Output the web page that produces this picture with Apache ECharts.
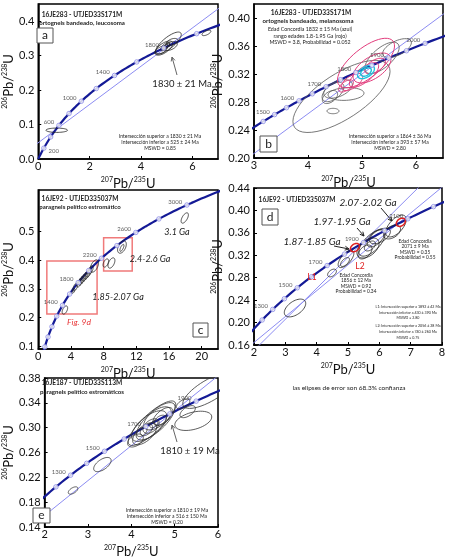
<!DOCTYPE html>
<html>
<head>
<meta charset="utf-8">
<script src="https://cdn.jsdelivr.net/npm/echarts@6/dist/echarts.min.js"></script>
<style>
  html, body { margin: 0; padding: 0; background: #fff; }
  #chart { width: 450px; height: 559px; }
</style>
</head>
<body>
<div id="chart"></div>
<script>
// decay constants, per Ma
const L238 = 1.55125e-4
const L235 = 9.8485e-4

// ellipses: [x, y, major half-axis dx, major half-axis dy, minor/major ratio]

// panel a
const aTicks = [200, 400, 600, 800, 1000, 1200, 1400, 1600, 1800, 2000, 2200]
const aLabels = [200, 600, 1000, 1400, 1800]
const aIntercepts = [525, 1830]
const aEllipses = [
  [0.72, 0.0835, 0.42, 0.0, 0.2],
  [6.55, 0.366, 0.17, 0.006, 0.4],
  [5.07, 0.337, 0.48, 0.029, 0.35],
  [4.89, 0.322, 0.33, 0.0174, 0.45],
  [5.15, 0.328, 0.26, 0.0087, 0.5],
  [4.78, 0.316, 0.22, 0.0087, 0.5],
  [4.96, 0.328, 0.15, 0.0087, 0.5],
  [5.22, 0.34, 0.22, 0.0058, 0.5],
  [4.95, 0.325, 0.10, 0.006, 0.5],
  [5.00, 0.328, 0.12, 0.007, 0.5],
  [4.88, 0.321, 0.10, 0.005, 0.6]
]

// panel b
const bTicks = [1400, 1450, 1500, 1550, 1600, 1650, 1700, 1750, 1800, 1850, 1900, 1950, 2000, 2050, 2100]
const bLabels = [1500, 1600, 1700, 1800, 1900, 2000]
const bIntercepts = [393, 1864]
const bGray = [
  [4.62, 0.288, 0.87, 0.044, 0.4],
  [5.648, 0.357, 0.26, 0.010, 0.45],
  [5.37, 0.343, 0.296, 0.020, 0.45],
  [4.463, 0.2943, 0.185, 0.0114, 0.55],
  [4.556, 0.2986, 0.259, 0.0086, 0.5],
  [4.407, 0.2871, 0.13, 0.0071, 0.6],
  [4.704, 0.2914, 0.333, 0.0014, 0.35],
  [4.463, 0.2671, 0.111, 0, 0.45]
]
const bRed = [
  [5.074, 0.3357, 0.5, 0.0314, 0.42],
  [5.185, 0.3286, 0.333, 0.0171, 0.5],
  [5.037, 0.3186, 0.259, 0.0157, 0.4],
  [4.815, 0.3086, 0.185, 0.01, 0.5],
  [4.704, 0.3029, 0.13, 0.0071, 0.5],
  [5.241, 0.3314, 0.185, 0.0086, 0.5]
]
const bCyan = [
  [5.074, 0.3229, 0.148, 0.0071, 0.55],
  [5.074, 0.3229, 0.093, 0.0043, 0.6]
]

// panel c
const cTicks = [600, 800, 1000, 1200, 1400, 1600, 1800, 2000, 2200, 2400, 2600, 2800, 3000, 3200]
const cLabels = [1400, 1800, 2200, 2600, 3000]
const cEllipses = [
  [17.93, 0.5473, 0.35, 0.0175, 0.45],
  [8.27, 0.3902, 0.23, 0.014, 0.5],
  [8.96, 0.3902, 0.29, 0.0175, 0.5],
  [10.24, 0.446, 0.35, 0.021, 0.55],
  [10.24, 0.443, 0.2, 0.012, 0.35],
  [3.26, 0.226, 0.23, 0.014, 0.5],
  [4.31, 0.2925, 0.15, 0.008, 0.4],
  [4.54, 0.3064, 0.23, 0.014, 0.4],
  [5.01, 0.3204, 0.23, 0.014, 0.45],
  [5.24, 0.3274, 0.23, 0.014, 0.45],
  [5.47, 0.3344, 0.23, 0.014, 0.45],
  [5.70, 0.3413, 0.23, 0.014, 0.45],
  [5.94, 0.3483, 0.23, 0.014, 0.45],
  [6.17, 0.3553, 0.23, 0.014, 0.45],
  [6.40, 0.3658, 0.23, 0.014, 0.45],
  [6.87, 0.3797, 0.35, 0.021, 0.5]
]
const cBoxes = [
  [[1.05, 0.212], [7.2, 0.397]],
  [[8.0, 0.362], [11.5, 0.478]]
]

// panel d
const dTicks = [1100, 1200, 1300, 1400, 1500, 1600, 1700, 1800, 1900, 2000, 2100, 2200]
const dLabels = [1300, 1500, 1700, 1900, 2100]
const dL1 = [430, 1892]
const dL2 = [740, 2056]
const dEllipses = [
  [3.309, 0.226, 0.319, 0.0125, 0.55],
  [4.49, 0.2884, 0.128, 0.0054, 0.6],
  [4.936, 0.3134, 0.223, 0.0143, 0.45],
  [4.904, 0.308, 0.128, 0.0071, 0.5],
  [5.766, 0.3419, 0.383, 0.0214, 0.45],
  [5.639, 0.333, 0.319, 0.0143, 0.6],
  [5.894, 0.3508, 0.255, 0.0143, 0.5],
  [5.543, 0.3259, 0.19, 0.0107, 0.6],
  [6.02, 0.3544, 0.319, 0.0107, 0.5],
  [5.70, 0.3366, 0.16, 0.0071, 0.6],
  [6.405, 0.3615, 0.255, 0.0089, 0.6],
  [6.532, 0.3722, 0.287, 0.0178, 0.5]
]
const dRed = [
  [5.221, 0.3337, 0.128, 0.0054, 0.7],
  [6.687, 0.3789, 0.128, 0.0054, 0.7]
]

// panel e
const eTicks = [1100, 1200, 1300, 1400, 1500, 1600, 1700, 1800, 1900, 2000]
const eLabels = [1300, 1500, 1700, 1900]
const eIntercepts = [516, 1810]
const eEllipses = [
  [2.656, 0.1988, 0.106, 0.0046, 0.5],
  [3.333, 0.2406, 0.19, 0.0093, 0.5],
  [4.476, 0.3072, 0.529, 0.0341, 0.3],
  [4.561, 0.3103, 0.423, 0.0279, 0.38],
  [4.413, 0.3026, 0.381, 0.0217, 0.45],
  [4.307, 0.2902, 0.254, 0.0155, 0.5],
  [4.095, 0.2793, 0.169, 0.0077, 0.6],
  [4.603, 0.315, 0.296, 0.0155, 0.5],
  [4.73, 0.3181, 0.212, 0.0124, 0.5],
  [4.455, 0.3026, 0.169, 0.0093, 0.6],
  [4.349, 0.2964, 0.127, 0.0077, 0.6],
  [4.667, 0.3119, 0.127, 0.0062, 0.6],
  [4.519, 0.3057, 0.085, 0.0046, 0.6],
  [4.243, 0.2933, 0.106, 0.0062, 0.6],
  [5.43, 0.311, 0.423, 0.008, 0.45],
  [5.30, 0.3258, 0.169, 0.0077, 0.5],
  [5.196, 0.3382, 0.148, 0.0062, 0.5],
  [5.8, 0.36, 0.6, 0.025, 0.35]
]

const FONT = 'Lato, "Open Sans", sans-serif'
const TXT = '#222'
const CURVE = '#141a96'
const DISC = '#8c8cf2'

function concordia(t) {
  return [Math.exp(L235 * t) - 1, Math.exp(L238 * t) - 1]
}

function curveData(t0, t1) {
  const out = []
  for (let t = t0; t <= t1; t += 10) out.push(concordia(t))
  return out
}

function discordia(ages, x0, x1) {
  const p = concordia(ages[0])
  const q = concordia(ages[1])
  const k = (q[1] - p[1]) / (q[0] - p[0])
  return [[x0, p[1] + k * (x0 - p[0])], [x1, p[1] + k * (x1 - p[0])]]
}

function curveSeries(i, t0, t1, extra) {
  return Object.assign({
    type: 'line', xAxisIndex: i, yAxisIndex: i, data: curveData(t0, t1),
    showSymbol: false, silent: true, clip: true, z: 4,
    lineStyle: { color: CURVE, width: 2.2 }
  }, extra || {})
}

function discSeries(i, ages, x0, x1) {
  return {
    type: 'line', xAxisIndex: i, yAxisIndex: i, data: discordia(ages, x0, x1),
    showSymbol: false, silent: true, clip: true, z: 2,
    lineStyle: { color: DISC, width: 1 }
  }
}

function tickSeries(i, ticks, labels, rightLabels) {
  return {
    type: 'scatter', xAxisIndex: i, yAxisIndex: i, silent: true, z: 6,
    symbol: 'circle', symbolSize: 4.5,
    itemStyle: { color: '#fff', borderColor: '#8a8ae6', borderWidth: 1 },
    data: ticks.map(t => {
      const right = rightLabels && rightLabels.includes(t)
      return {
        value: concordia(t),
        label: {
          show: labels.includes(t), formatter: String(t),
          position: right ? 'right' : 'left', distance: 2,
          offset: right ? [0, 3] : [0, -3],
          fontSize: 6, color: '#333', fontFamily: FONT
        }
      }
    })
  }
}

function ellipseSeries(i, list, color, width) {
  return {
    type: 'custom', xAxisIndex: i, yAxisIndex: i, clip: true, silent: true, z: 5,
    data: list,
    encode: { x: 0, y: 1 },
    renderItem(params, api) {
      const c = api.coord([api.value(0), api.value(1)])
      const e = api.coord([api.value(0) + api.value(2), api.value(1) + api.value(3)])
      const vx = e[0] - c[0], vy = e[1] - c[1], r = api.value(4)
      const pts = []
      for (let k = 0; k < 48; k++) {
        const a = k / 48 * Math.PI * 2
        pts.push([c[0] + Math.cos(a) * vx - Math.sin(a) * vy * r,
                  c[1] + Math.cos(a) * vy + Math.sin(a) * vx * r])
      }
      return {
        type: 'polygon', shape: { points: pts },
        style: { fill: 'none', stroke: color, lineWidth: width }
      }
    }
  }
}

const xName = '{s|207}{m|Pb/}{s|235}{m|U}'
const yName = '{s|206}{m|Pb/}{s|238}{m|U}'
const nameStyle = {
  color: '#111', fontFamily: FONT,
  rich: {
    s: { fontSize: 7, fontFamily: FONT, color: '#111', verticalAlign: 'top', lineHeight: 14 },
    m: { fontSize: 13, fontFamily: FONT, color: '#111', verticalAlign: 'bottom', lineHeight: 14 }
  }
}

function xAxis(i, min, max, interval, digits, showMax) {
  return {
    type: 'value', gridIndex: i, min: min, max: max, interval: interval,
    name: xName, nameLocation: 'middle', nameGap: 17, nameTextStyle: nameStyle,
    splitLine: { show: false },
    axisLine: { lineStyle: { color: '#000', width: 1.5 } },
    axisTick: { inside: true, length: 3, lineStyle: { color: '#000' } },
    axisLabel: { margin: 2, fontSize: 11, color: '#111', fontFamily: FONT, showMaxLabel: !!showMax,
      formatter: v => v.toFixed(digits) }
  }
}

function yAxis(i, min, max, interval, digits, gap, showMax, custom) {
  const ax = {
    type: 'value', gridIndex: i, min: min, max: max, interval: interval,
    name: yName, nameLocation: 'middle', nameGap: gap, nameRotate: 90, nameTextStyle: nameStyle,
    splitLine: { show: false },
    axisLine: { lineStyle: { color: '#000', width: 1.5 } },
    axisTick: { inside: true, length: 3, lineStyle: { color: '#000' } },
    axisLabel: { margin: 4, fontSize: 11, color: '#111', fontFamily: FONT, showMaxLabel: !!showMax,
      formatter: v => v.toFixed(digits) }
  }
  if (custom) {
    ax.axisLabel.customValues = custom
    ax.axisTick.customValues = custom
  }
  return ax
}

// text helpers for the annotations
function txt(x, y, s, size, opts) {
  opts = opts || {}
  return {
    type: 'text', silent: true, z: 20,
    style: {
      text: s, x: x, y: y,
      textAlign: opts.align || 'center', textVerticalAlign: 'middle',
      align: opts.align || 'center', verticalAlign: 'middle',
      fontSize: size, fontFamily: FONT, fontWeight: opts.bold ? 'bold' : 'normal',
      fontStyle: opts.italic ? 'italic' : 'normal',
      fill: opts.color || TXT
    }
  }
}

function lines(x, y0, step, arr, size) {
  return arr.map((s, k) => txt(x, y0 + k * step, s, size))
}

function letterBox(x, y, w, h, s) {
  return [
    { type: 'rect', silent: true, z: 20, shape: { x: x, y: y, width: w, height: h },
      style: { fill: '#fff', stroke: '#555', lineWidth: 1 } },
    txt(x + w / 2, y + h / 2, s, 12)
  ]
}

function arrow(x1, y1, x2, y2, color) {
  const a = Math.atan2(y2 - y1, x2 - x1), L = 4.5, w = 0.45
  return [
    { type: 'line', silent: true, z: 20, shape: { x1: x1, y1: y1, x2: x2, y2: y2 },
      style: { stroke: color, lineWidth: 1 } },
    { type: 'polyline', silent: true, z: 20,
      shape: { points: [[x2 - L * Math.cos(a - w), y2 - L * Math.sin(a - w)], [x2, y2],
                        [x2 - L * Math.cos(a + w), y2 - L * Math.sin(a + w)]] },
      style: { stroke: color, lineWidth: 1, fill: 'none' } }
  ]
}

const myChart = echarts.init(document.getElementById('chart'), null, { renderer: 'canvas' })

const grids = [
  { left: 29, top: 4, width: 189, height: 155 },
  { left: 254, top: 4, width: 189, height: 154 },
  { left: 29, top: 190, width: 189, height: 159 },
  { left: 254, top: 188, width: 188, height: 157 },
  { left: 29, top: 378, width: 189, height: 155 }
].map(g => Object.assign(g, { show: true, borderColor: '#000', borderWidth: 1.5, backgroundColor: 'transparent' }))

const graphics = [].concat(
  // a
  txt(82, 15, '16JE283 - UTJED33S171M', 6.6, { bold: true }),
  txt(82, 23, 'ortogneis bandeado, leucosoma', 6.1, { bold: true }),
  letterBox(37, 28, 16, 15, 'a'),
  txt(182, 84, '1830 ± 21 Ma', 9.5),
  arrow(177, 75, 172, 57, '#666'),
  lines(160, 136, 6, ['Intersección superior a 1830 ± 21 Ma', 'Intersección inferior a 525 ± 24 Ma', 'MSWD = 0.85'], 5),
  // b
  txt(311, 13, '16JE283 - UTJED33S171M', 6.6, { bold: true }),
  txt(308, 21, 'ortogneis bandeado, melanosoma', 6.1, { bold: true }),
  lines(310, 29.5, 6.3, ['Edad Concordia 1832 ± 15 Ma (azul)', 'rango edades 1.8-1.95 Ga (rojo)', 'MSWD = 3.8, Probabilidad = 0.052'], 5.3),
  lines(390, 136, 6, ['Intersección superior a 1864 ± 36 Ma', 'Intersección inferior a 393 ± 57 Ma', 'MSWD = 2.80'], 5),
  letterBox(260, 136, 17, 16, 'b'),
  // c
  txt(80, 199, '16JE92 - UTJED335037M', 6.6, { bold: true }),
  txt(80, 207, 'paragneis pelítico estromático', 6.1, { bold: true }),
  txt(177, 232, '3.1 Ga', 9, { italic: true }),
  txt(150, 259, '2.4-2.6 Ga', 9, { italic: true }),
  txt(118, 297, '1.85-2.07 Ga', 9, { italic: true }),
  txt(79, 322, 'Fig. 9d', 8.5, { italic: true, color: '#e8383a' }),
  letterBox(193, 323, 15, 14, 'c'),
  // d
  txt(297, 200, '16JE92 - UTJED335037M', 6.6, { bold: true }),
  letterBox(262, 209, 16, 16, 'd'),
  txt(368, 203, '2.07-2.02 Ga', 10, { italic: true }),
  txt(342, 222, '1.97-1.95 Ga', 10, { italic: true }),
  txt(312, 242, '1.87-1.85 Ga', 10, { italic: true }),
  arrow(381, 208, 392, 221, '#222'),
  arrow(357, 228, 364, 236, '#222'),
  arrow(334, 246, 349, 249, '#222'),
  txt(312, 277, 'L1', 8.5, { color: '#e02020' }),
  txt(360, 266, 'L2', 8.5, { color: '#e02020' }),
  lines(415, 241, 5.5, ['Edad Concordia', '2071 ± 9 Ma', 'MSWD = 0.35', 'Probabilidad = 0.55'], 4.8),
  lines(356, 275, 5.6, ['Edad Concordia', '1856 ± 12 Ma', 'MSWD = 0.92', 'Probabilidad = 0.34'], 4.8),
  lines(408, 306.7, 5.8, ['L1: Intersección superior a 1892 ± 42 Ma', 'Intersección inferior a 430 ± 390 Ma', 'MSWD = 2.80'], 3.6),
  lines(408, 325.7, 6, ['L2: Intersección superior a 2056 ± 28 Ma', 'Intersección inferior a 740 ± 260 Ma', 'MSWD = 0.75'], 3.6),
  // e
  txt(82, 383, '16JE187 - UTJED33S113M', 6.6, { bold: true }),
  txt(82, 392, 'paragneis pelítico estromáticos', 6.1, { bold: true }),
  txt(190, 451, '1810 ± 19 Ma', 9.5),
  arrow(177, 442, 172, 425, '#666'),
  lines(167, 510, 6.3, ['Intersección superior a 1810 ± 19 Ma', 'Intersección inferior a 516 ± 150 Ma', 'MSWD = 0.20'], 5),
  letterBox(33, 508, 17, 15, 'e'),
  // caption
  txt(349, 388, 'las elipses de error son 68.3% confianza', 6.5)
)

const option = {
  animation: false,
  backgroundColor: '#fff',
  grid: grids,
  xAxis: [
    xAxis(0, 0, 7, 2, 0),
    xAxis(1, 3, 6.5, 1, 0),
    xAxis(2, 0, 22, 4, 0),
    xAxis(3, 2, 8, 1, 0, true),
    xAxis(4, 2, 6, 1, 0, true)
  ],
  yAxis: [
    yAxis(0, 0, 0.45, 0.1, 1, 19),
    yAxis(1, 0.2, 0.42, 0.04, 2, 23),
    yAxis(2, 0.09, 0.645, 0.1, 1, 21, false, [0.1, 0.2, 0.3, 0.4, 0.5, 0.6]),
    yAxis(3, 0.16, 0.44, 0.04, 2, 22, true),
    yAxis(4, 0.14, 0.38, 0.04, 2, 20, true)
  ],
  graphic: { elements: graphics },
  series: [
    // a
    discSeries(0, aIntercepts, -1, 8),
    curveSeries(0, 0, 2400),
    tickSeries(0, aTicks, aLabels, [200]),
    ellipseSeries(0, aEllipses, '#222', 0.8),
    // b
    discSeries(1, bIntercepts, 2, 7),
    curveSeries(1, 1300, 2200),
    tickSeries(1, bTicks, bLabels),
    ellipseSeries(1, bGray, '#555', 0.8),
    ellipseSeries(1, bRed, '#e23c7c', 1),
    ellipseSeries(1, bCyan, '#1fc2dc', 1.4),
    // c
    curveSeries(2, 400, 3400, {
      markArea: {
        silent: true,
        itemStyle: { color: 'transparent', borderColor: '#f07a7a', borderWidth: 1.5 },
        data: cBoxes.map(b => [{ coord: b[0] }, { coord: b[1] }])
      }
    }),
    tickSeries(2, cTicks, cLabels),
    ellipseSeries(2, cEllipses, '#222', 0.8),
    // d
    discSeries(3, dL1, 1, 9),
    discSeries(3, dL2, 1, 9),
    curveSeries(3, 1000, 2400),
    tickSeries(3, dTicks, dLabels),
    ellipseSeries(3, dEllipses, '#222', 0.8),
    ellipseSeries(3, dRed, '#e02020', 1.5),
    // e
    discSeries(4, eIntercepts, 1, 7),
    curveSeries(4, 1000, 2200),
    tickSeries(4, eTicks, eLabels),
    ellipseSeries(4, eEllipses, '#333', 0.8)
  ]
}

myChart.setOption(option)
window.addEventListener('resize', function() {
  myChart.resize()
})
</script>
</body>
</html>
